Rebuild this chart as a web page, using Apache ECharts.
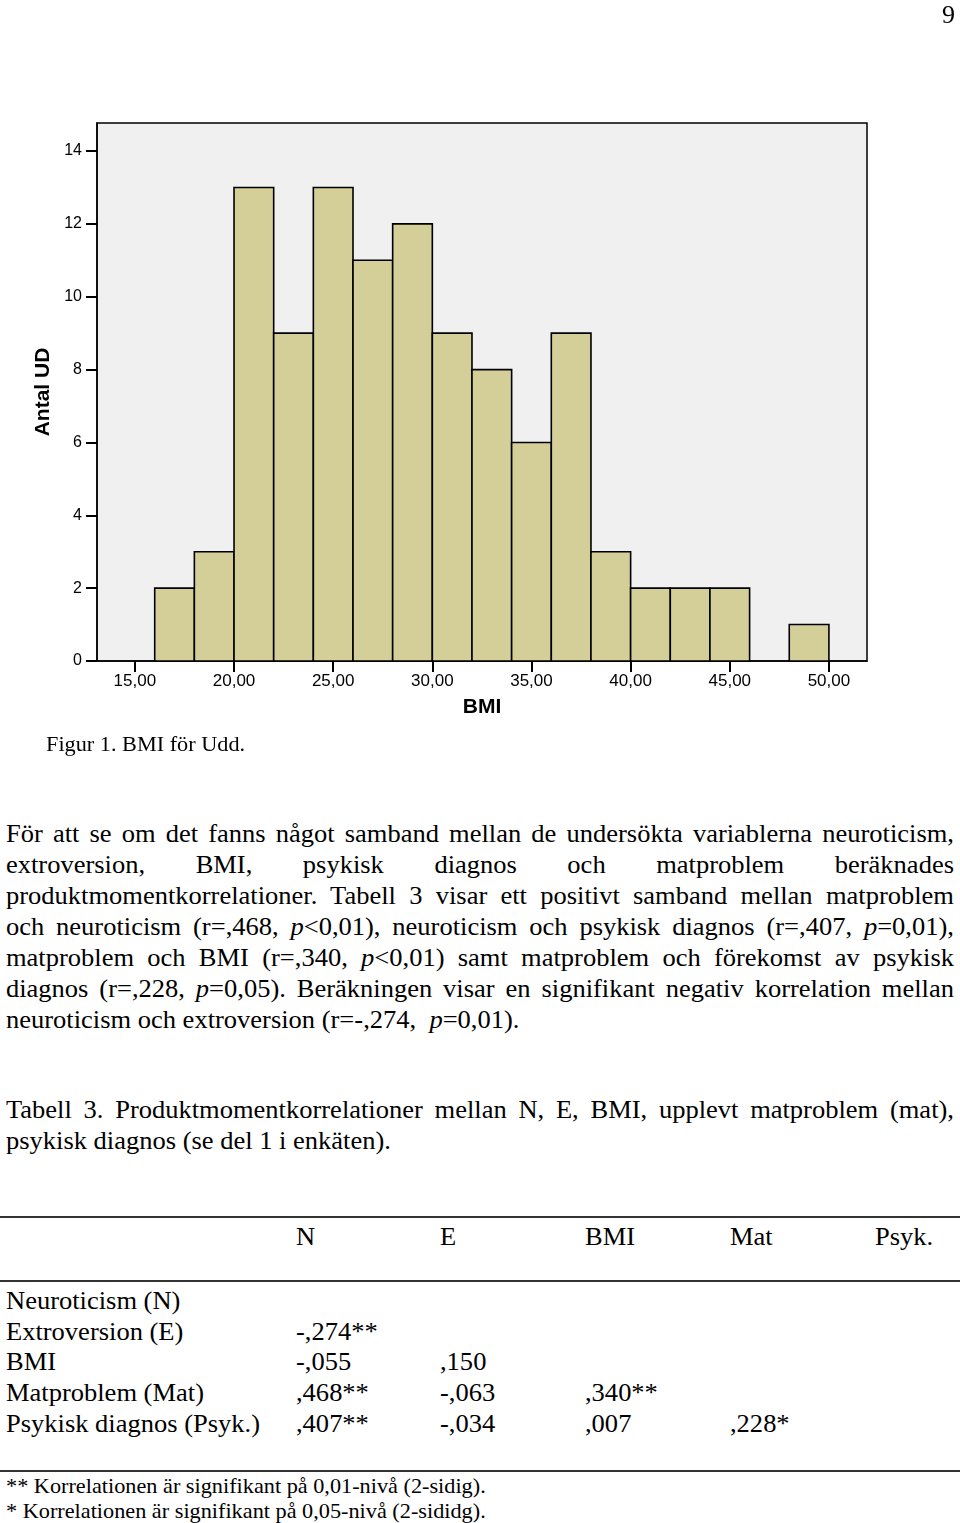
<!DOCTYPE html>
<html>
<head>
<meta charset="utf-8">
<script src="https://cdn.jsdelivr.net/npm/echarts@6/dist/echarts.min.js"></script>
<style>
  html, body { margin:0; padding:0; background:#fff; }
  body { width:960px; height:1523px; position:relative; overflow:hidden; font-family:"Liberation Serif", "Times New Roman", serif; color:#000; }
  #chart { position:absolute; left:0; top:0; width:960px; height:770px; }
  .ln { position:absolute; left:6px; width:894.3px; font-size:25px; line-height:31px; white-space:nowrap; transform:scaleX(1.06); transform-origin:0 50%; }
  .j { text-align:justify; text-align-last:justify; white-space:normal; }
  .rule { position:absolute; left:0; width:960px; height:2px; background:#333; }
  .cell { position:absolute; font-size:25px; line-height:31px; white-space:nowrap; transform:scaleX(1.06); transform-origin:0 50%; }
  .foot { position:absolute; left:6px; font-size:21px; line-height:25px; white-space:nowrap; transform:scaleX(1.06); transform-origin:0 50%; }
</style>
</head>
<body>
<div id="chart"></div>
<div id="text"></div>
<script>
// ---- Histogram data (BMI bins of the figure) ----
const binEdges = [16,18,20,22,24,26,28,30,32,34,36,38,40,42,44,46,48,50];
const counts   = [2, 3, 13, 9, 13, 11, 12, 9, 8, 6, 9, 3, 2, 2, 2, 0, 1];
const xTicks   = [15,20,25,30,35,40,45,50];
const yTicks   = [0,2,4,6,8,10,12,14];

// ---- Table data ----
const colHeaders = ["N","E","BMI","Mat","Psyk."];
const rowLabels  = ["Neuroticism (N)","Extroversion (E)","BMI","Matproblem (Mat)","Psykisk diagnos (Psyk.)"];
const corrCells  = [
  [],
  ["-,274**"],
  ["-,055", ",150"],
  [",468**", "-,063", ",340**"],
  [",407**", "-,034", ",007", ",228*"]
];

const histData = counts.map((c, i) => [binEdges[i], binEdges[i+1], c]);

const chart = echarts.init(document.getElementById('chart'), null, {renderer:'canvas'});
const axisFont = 'Liberation Sans, Arial, sans-serif';
chart.setOption({
  animation:false,
  grid:{ left:97, top:123, width:770, height:538, show:true, backgroundColor:'#f0f0f0', borderColor:'#000', borderWidth:1.5 },
  xAxis:{
    type:'value', min:13.09, max:51.92,
    name:'BMI', nameLocation:'middle', nameGap:36,
    nameTextStyle:{ fontFamily:axisFont, fontSize:21, fontWeight:'bold', color:'#000' },
    axisLine:{ show:true, lineStyle:{ color:'#000', width:1.5 } },
    axisTick:{ show:true, customValues:xTicks, length:11, lineStyle:{ color:'#000', width:2 } },
    axisLabel:{ customValues:xTicks, margin:12, fontFamily:axisFont, fontSize:17, color:'#000',
      formatter:v => v.toFixed(2).replace('.', ',') },
    splitLine:{ show:false }
  },
  yAxis:{
    type:'value', min:0, max:14.77,
    name:'Antal UD', nameLocation:'middle', nameGap:41,
    nameTextStyle:{ fontFamily:axisFont, fontSize:21, fontWeight:'bold', color:'#000' },
    axisLine:{ show:true, lineStyle:{ color:'#000', width:1.5 } },
    axisTick:{ show:true, customValues:yTicks, length:11, lineStyle:{ color:'#000', width:2 } },
    axisLabel:{ customValues:yTicks, margin:15, fontFamily:axisFont, fontSize:16, color:'#000' },
    splitLine:{ show:false }
  },
  series:[{
    type:'custom',
    data:histData,
    encode:{ x:[0,1], y:2 },
    renderItem:(params, api) => {
      const c = api.value(2);
      if (!c) return null;
      const p0 = api.coord([api.value(0), c]);
      const p1 = api.coord([api.value(1), 0]);
      return { type:'rect',
        shape:{ x:p0[0], y:p0[1], width:p1[0]-p0[0], height:p1[1]-p0[1] },
        style:{ fill:'#d4cf98', stroke:'#000', lineWidth:1.6 } };
    }
  }]
});

// ---- Page text ----
const paraLines = [
  ['j', 'För att se om det fanns något samband mellan de undersökta variablerna neuroticism,'],
  ['j', 'extroversion, BMI, psykisk diagnos och matproblem beräknades'],
  ['j', 'produktmomentkorrelationer. Tabell 3 visar ett positivt samband mellan matproblem'],
  ['j', 'och neuroticism (r=,468, <i>p</i>&lt;0,01), neuroticism och psykisk diagnos (r=,407, <i>p</i>=0,01),'],
  ['j', 'matproblem och BMI (r=,340, <i>p</i>&lt;0,01) samt matproblem och förekomst av psykisk'],
  ['j', 'diagnos (r=,228, <i>p</i>=0,05). Beräkningen visar en signifikant negativ korrelation mellan'],
  ['l', 'neuroticism och extroversion (r=-,274,&nbsp; <i>p</i>=0,01).']
];
const captionLines = [
  ['j', 'Tabell 3. Produktmomentkorrelationer mellan N, E, BMI, upplevt matproblem (mat),'],
  ['l', 'psykisk diagnos (se del 1 i enkäten).']
];
const footnotes = [
  '** Korrelationen är signifikant på 0,01-nivå (2-sidig).',
  '* Korrelationen är signifikant på 0,05-nivå (2-sididg).'
];

let html = '';
html += '<div style="position:absolute;left:942px;top:0;font-size:26px;line-height:30px;">9</div>';
html += '<div style="position:absolute;left:46px;top:732px;font-size:21px;line-height:24px;white-space:nowrap;transform:scaleX(1.06);transform-origin:0 50%;">Figur 1. BMI för Udd.</div>';
paraLines.forEach((l, i) => {
  const top = 817.5 + i * 31;
  html += `<div class="ln ${l[0]==='j'?'j':''}" style="top:${top}px">${l[1]}</div>`;
});
captionLines.forEach((l, i) => {
  const top = 1093.5 + i * 31;
  html += `<div class="ln ${l[0]==='j'?'j':''}" style="top:${top}px">${l[1]}</div>`;
});
// table
const colX = [296, 440, 585, 730, 875];
html += '<div class="rule" style="top:1216px"></div>';
colHeaders.forEach((h, i) => {
  html += `<div class="cell" style="left:${colX[i]}px;top:1220.5px">${h}</div>`;
});
html += '<div class="rule" style="top:1280px"></div>';
const rowY = [1300, 1331, 1361, 1392, 1423];
rowLabels.forEach((r, i) => {
  html += `<div class="cell" style="left:6px;top:${rowY[i]-15.5}px">${r}</div>`;
  corrCells[i].forEach((v, j) => {
    html += `<div class="cell" style="left:${colX[j]}px;top:${rowY[i]-15.5}px">${v}</div>`;
  });
});
html += '<div class="rule" style="top:1470px"></div>';
footnotes.forEach((f, i) => {
  html += `<div class="foot" style="top:${1486 - 12.5 + i*25}px">${f}</div>`;
});
document.getElementById('text').innerHTML = html;
</script>
</body>
</html>
